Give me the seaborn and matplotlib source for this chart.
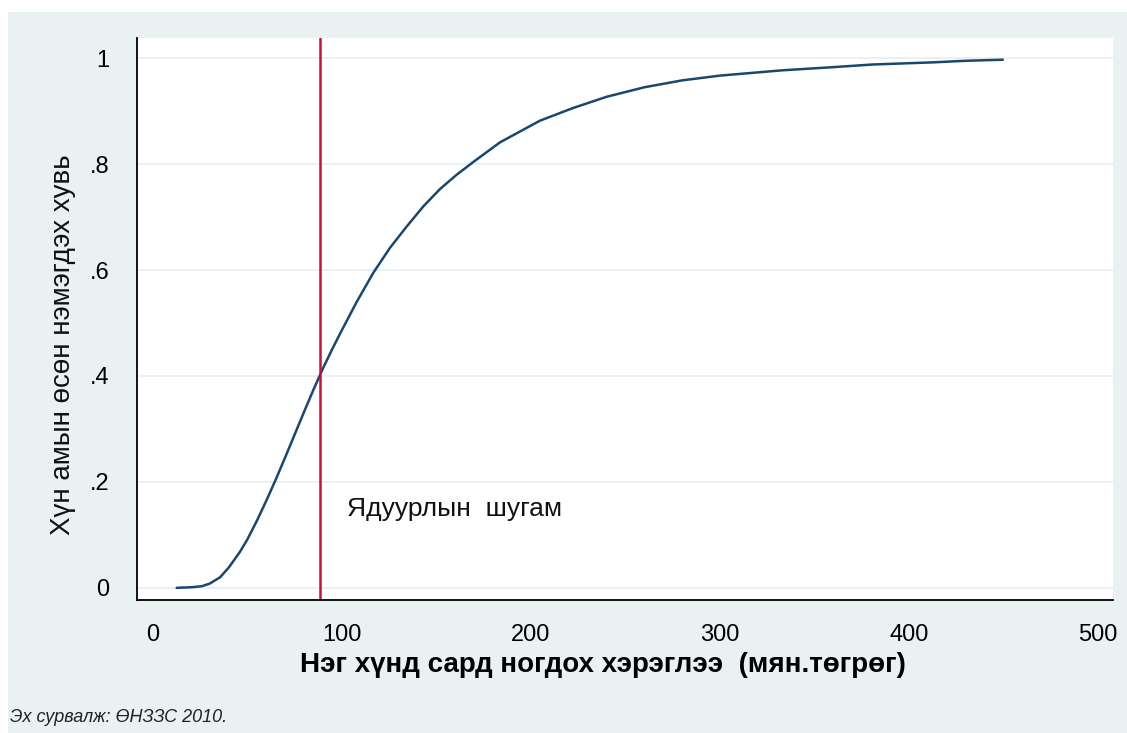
import matplotlib
matplotlib.use("Agg")
import matplotlib.pyplot as plt
import seaborn as sns
import pandas as pd
from matplotlib.patches import Rectangle

# consumption per person per month (thousand tugrik) and cumulative share of population
consumption = [12.5, 20, 25.8, 30, 35.5, 40, 46, 50, 55, 60, 65, 70, 75, 80, 85, 90, 95,
               100, 107.8, 116.6, 125.4, 134.2, 143, 151.9, 160.7, 169.5, 183.6, 204.8,
               222.4, 240, 260, 280, 300, 333, 360, 381, 412.7, 430, 449.7]
cum_share = [0.0, 0.001, 0.003, 0.008, 0.02, 0.038, 0.068, 0.092, 0.127, 0.165, 0.205,
             0.247, 0.29, 0.333, 0.375, 0.415, 0.452, 0.487, 0.54, 0.595, 0.642, 0.682,
             0.72, 0.753, 0.78, 0.804, 0.841, 0.882, 0.906, 0.927, 0.945, 0.958, 0.967,
             0.977, 0.983, 0.988, 0.992, 0.995, 0.997]
poverty_line = 88.4
x_ticks = [0, 100, 200, 300, 400, 500]
y_ticks = [0, 0.2, 0.4, 0.6, 0.8, 1.0]
y_tick_labels = ["0", ".2", ".4", ".6", ".8", "1"]

df = pd.DataFrame({"consumption": consumption, "share": cum_share})

sns.set_theme(style="white")
plt.rcParams["font.family"] = ["Liberation Sans", "DejaVu Sans"]

fig = plt.figure(figsize=(11.27, 7.33), dpi=100)
fig.patch.set_facecolor("white")
# light grey-blue graph region (Stata style), kept behind the axes
fig.patches.append(Rectangle((8 / 1127, 0), 1, (733 - 12) / 733, transform=fig.transFigure,
                             facecolor="#eaf1f3", edgecolor="none", zorder=-10))

ax = fig.add_axes([137 / 1127, 1 - 600 / 733, (1113 - 137) / 1127, (600 - 38) / 733])
ax.set_zorder(5)
ax.set_facecolor("white")

sns.lineplot(data=df, x="consumption", y="share", ax=ax, color="#1a476f", linewidth=1.8)
ax.axvline(poverty_line, color="#c8103a", linewidth=1.8)
ax.text(102.6, 0.148, "Ядуурлын  шугам", fontsize=19, color="#111111", va="center", ha="left")

ax.set_xlim(-8.5, 508)
ax.set_ylim(-0.023, 1.038)
ax.set_xticks(x_ticks)
ax.set_yticks(y_ticks)
ax.set_yticklabels(y_tick_labels)
ax.yaxis.grid(True, color="#e6eef1", linewidth=1.2)
ax.xaxis.grid(False)

for side in ["top", "right"]:
    ax.spines[side].set_visible(False)
for side in ["left", "bottom"]:
    ax.spines[side].set_visible(True)
    ax.spines[side].set_color("black")
    ax.spines[side].set_linewidth(1.3)

ax.tick_params(axis="both", which="major", direction="out", length=10, width=1.2,
               colors="black", labelsize=17, pad=7)
ax.tick_params(axis="y", pad=10)

ax.set_xlabel("Нэг хүнд сард ногдох хэрэглээ  (мян.төгрөг)", fontsize=20, fontweight="bold",
              color="black")
ax.xaxis.set_label_coords(0.477, -0.093)
ax.set_ylabel("Хүн амын өсөн нэмэгдэх хувь", fontsize=20, color="#111111")
ax.yaxis.set_label_coords(-0.062, 0.455)

fig.text(10 / 1127, 1 - 718 / 733, "Эх сурвалж: ӨНЗЗС 2010.", fontsize=13, style="italic",
         color="#222222", va="center", ha="left")

fig.savefig("out.png", dpi=100, facecolor=fig.get_facecolor())
